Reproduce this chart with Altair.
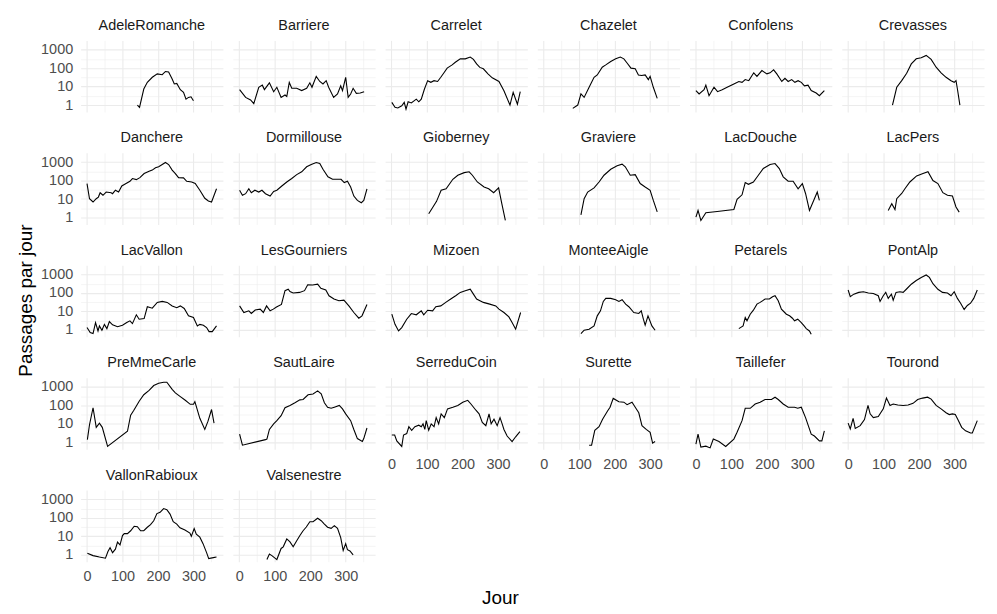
import altair as alt
import pandas as pd

SITES = ["AdeleRomanche", "Barriere", "Carrelet", "Chazelet", "Confolens", "Crevasses",
         "Danchere", "Dormillouse", "Gioberney", "Graviere", "LacDouche", "LacPers",
         "LacVallon", "LesGourniers", "Mizoen", "MonteeAigle", "Petarels", "PontAlp",
         "PreMmeCarle", "SautLaire", "SerreduCoin", "Surette", "Taillefer", "Tourond",
         "VallonRabioux", "Valsenestre"]

ADELE_DAY = [142, 148, 160, 170, 184, 198, 212, 221, 230, 240, 246, 253, 263, 272, 279, 286, 293, 300]
ADELE_VAL = [1, 0.75, 7.4, 17, 32, 49, 44, 66, 62, 26, 14, 15, 6.8, 4.9, 2.1, 2.6, 2.8, 1.7]

BARRIERE_DAY = [1, 18, 32, 41, 55, 65, 71, 85, 97, 106, 118, 129, 134, 141, 148, 162, 176, 190, 199, 205,
                217, 227, 236, 245, 252, 266, 277, 286, 291, 300, 307, 314, 321, 330, 341, 352]
BARRIERE_VAL = [6.9, 2.6, 1.9, 1.2, 9.2, 12, 6.9, 16, 5.3, 9.2, 2.6, 3.5, 2.9, 17, 8.1, 8.1, 6.1, 8.1, 16, 9.2,
                36, 19, 14, 21, 9.2, 2.6, 4, 11, 6.1, 32, 2.6, 4, 8.1, 4.3, 4.5, 5.3]

CARRELET_DAY = [1, 10, 18, 29, 36, 41, 47, 56, 70, 77, 84, 93, 102, 111, 120, 130, 139, 148, 157, 171,
                180, 194, 208, 222, 231, 240, 249, 259, 272, 284, 303, 317, 334, 343, 355, 363]
CARRELET_VAL = [1.4, 0.75, 0.7, 0.92, 1.4, 0.6, 1.5, 1.3, 2.1, 1.5, 2.1, 7.4, 21, 17, 21, 19, 32, 56, 100, 150,
                210, 320, 320, 400, 300, 170, 110, 92, 49, 30, 19, 6, 1, 4.9, 1.1, 5.3]

CHAZELET_DAY = [82, 96, 105, 114, 128, 142, 151, 165, 175, 189, 203, 216, 226, 235, 246, 258, 267, 276,
                286, 295, 300, 309, 320]
CHAZELET_VAL = [0.66, 1, 4, 2.6, 9.2, 32, 43, 113, 150, 230, 320, 400, 320, 190, 100, 92, 43, 40,
                43, 24, 36, 9.2, 2.3]

CONFOLENS_DAY = [0, 9, 23, 28, 37, 51, 61, 74, 88, 107, 121, 130, 139, 149, 163, 172, 186, 200, 209, 219,
                 228, 242, 251, 260, 270, 279, 288, 297, 306, 316, 325, 339, 348, 362]
CONFOLENS_VAL = [6.1, 4, 6.8, 12, 3.2, 9.2, 5.3, 6.8, 9.2, 14, 19, 17, 24, 21, 56, 36, 74, 49, 56, 81,
                 49, 19, 28, 19, 24, 17, 21, 17, 11, 12, 6.1, 4.5, 3.2, 6.1]

CREVASSES_DAY = [125, 137, 151, 165, 178, 192, 206, 220, 234, 248, 262, 276, 290, 299, 304, 308, 315]
CREVASSES_VAL = [1, 9.2, 21, 53, 170, 320, 370, 490, 300, 113, 56, 32, 21, 17, 21, 7.4, 1]

DANCHERE_DAY = [0, 7, 17, 26, 32, 37, 45, 54, 68, 72, 80, 89, 98, 110, 121, 128, 139, 149, 161, 175,
                184, 193, 202, 212, 221, 230, 240, 249, 258, 272, 281, 295, 305, 318, 332, 342, 351, 365]
DANCHERE_VAL = [69, 10.4, 6.9, 10.4, 12.8, 22, 16, 24, 22, 19.5, 30, 24, 51, 69, 92, 129, 113, 145, 240, 320,
                370, 490, 560, 740, 960, 740, 370, 240, 145, 140, 92, 84, 69, 30, 11, 7.8, 6.9, 36]

DORMILLOUSE_DAY = [1, 9, 18, 27, 34, 44, 55, 64, 74, 87, 97, 106, 120, 134, 148, 162, 176, 190, 203, 217,
                   227, 236, 250, 263, 277, 287, 296, 305, 314, 323, 333, 344, 351, 360]
DORMILLOUSE_VAL = [30, 16, 19.5, 36, 22, 30, 24, 30, 19.5, 14.5, 26, 30, 51, 84, 129, 210, 300, 560, 740, 960,
                   840, 410, 160, 118, 118, 118, 78, 92, 45, 14.5, 8.4, 6.3, 8.4, 36]

GIOBERNEY_DAY = [105, 117, 127, 140, 154, 173, 187, 205, 219, 228, 242, 261, 274, 288, 302, 311, 321]
GIOBERNEY_VAL = [1.6, 3.7, 7.5, 30, 36, 118, 195, 270, 300, 195, 84, 45, 36, 22, 40, 5.6, 0.7]

GRAVIERE_DAY = [105, 114, 124, 142, 156, 170, 189, 207, 221, 230, 244, 258, 272, 286, 300, 309, 320]
GRAVIERE_VAL = [1.4, 10.4, 24, 40, 84, 195, 410, 630, 780, 560, 195, 210, 69, 45, 30, 8.4, 2]

LACDOUCHE_DAY = [0, 6, 14, 28, 60, 107, 116, 130, 139, 148, 162, 176, 190, 209, 223, 235, 246, 260,
                 274, 288, 300, 309, 320, 334, 342, 348]
LACDOUCHE_VAL = [1.04, 2.4, 0.69, 1.8, 2.1, 2.7, 9.6, 17, 78, 63, 84, 195, 450, 740, 840, 450, 160, 92,
                 92, 36, 69, 20, 2.4, 10.4, 24, 8.4]

LACPERS_DAY = [113, 123, 132, 137, 151, 160, 174, 193, 211, 225, 239, 253, 267, 280, 294, 304, 313]
LACPERS_VAL = [2.4, 5.6, 2.7, 10.4, 20, 36, 84, 180, 240, 300, 100, 69, 22, 16, 14.5, 3.7, 1.95]

LACVALLON_DAY = [0, 9, 17, 24, 31, 35, 42, 49, 56, 63, 72, 86, 100, 112, 121, 128, 139, 147, 161, 170,
                 184, 198, 212, 226, 240, 253, 263, 274, 286, 300, 311, 318, 328, 337, 344, 353, 365]
LACVALLON_VAL = [1.34, 0.72, 0.63, 2.5, 0.88, 1.65, 0.96, 2.0, 1.18, 2.85, 1.9, 1.5, 1.8, 2.5, 3.1, 2.2, 6.6, 3.8, 4.1, 18,
                 15, 31, 35, 31, 20, 16, 20, 14.6, 5.8, 4.7, 1.65, 2.0, 1.8, 1.34, 0.81, 0.81, 1.65]

LESGOURNIERS_DAY = [1, 13, 27, 34, 45, 59, 68, 77, 87, 96, 105, 119, 129, 138, 143, 152, 170, 184, 193, 207,
                    221, 230, 244, 253, 267, 281, 295, 309, 323, 337, 346, 360]
LESGOURNIERS_VAL = [20, 8.8, 10.8, 7.8, 12, 13.4, 8.8, 20, 10.8, 13.4, 17.6, 24, 134, 160, 120, 100, 108, 134, 280, 270,
                    300, 180, 145, 71, 47, 38, 41, 20, 8.8, 4.3, 5.8, 24]

MIZOEN_DAY = [1, 10, 20, 29, 43, 56, 70, 84, 91, 102, 116, 125, 139, 153, 167, 181, 194, 208, 222, 231,
              240, 259, 277, 294, 303, 317, 331, 340, 350, 364]
MIZOEN_VAL = [7.1, 2.0, 0.88, 1.34, 3.8, 7.7, 6.6, 10.8, 6.6, 11.7, 10.8, 18, 20, 31, 47, 71, 108, 134, 160, 87,
              47, 31, 25, 20, 13.4, 8.8, 5.1, 2.5, 1.1, 8.8]

MONTEEAIGLE_DAY = [105, 114, 128, 142, 151, 160, 168, 175, 189, 203, 212, 221, 231, 240, 254, 268, 275,
                   281, 286, 294, 305, 314]
MONTEEAIGLE_VAL = [0.63, 0.96, 1.08, 1.65, 5.8, 10.8, 35, 51, 51, 43, 35, 43, 25, 18, 8.8, 7.8, 10.8,
                   3.8, 1.8, 5.8, 1.65, 0.96]

PETARELS_DAY = [121, 133, 139, 144, 153, 162, 172, 181, 195, 207, 216, 223, 232, 241, 255, 264, 272, 278,
                287, 297, 305, 311, 320, 325]
PETARELS_VAL = [1.18, 1.65, 4.7, 3.1, 7.1, 11.7, 25, 31, 47, 47, 63, 71, 38, 13.4, 7.1, 5.8, 4.3, 3.1,
                3.8, 2.5, 1.65, 1.18, 0.88, 0.58]

PONTALP_DAY = [0, 6, 16, 30, 43, 57, 71, 85, 90, 99, 106, 113, 122, 127, 135, 146, 155, 164, 178, 192,
               206, 220, 229, 239, 253, 266, 280, 290, 299, 308, 317, 327, 336, 345, 354, 364]
PONTALP_VAL = [145, 63, 87, 108, 117, 100, 95, 71, 35, 71, 108, 51, 87, 41, 108, 117, 108, 160, 300, 480,
               700, 950, 700, 320, 160, 108, 100, 71, 117, 51, 28, 12.9, 21, 28, 51, 145]

PREMMECARLE_DAY = [1, 7, 17, 26, 35, 43, 58, 114, 123, 132, 147, 160, 175, 188, 202, 216, 225, 240, 249,
                   263, 277, 291, 300, 304, 318, 332, 341, 351, 358]
PREMMECARLE_VAL = [1.4, 9, 75, 6.5, 11, 6.5, 0.6, 4, 30, 55, 170, 380, 650, 1200, 1600, 1800, 1800, 750, 480,
                   300, 190, 115, 115, 160, 20, 5, 14, 60, 11]

SAUTLAIRE_DAY = [1, 9, 74, 78, 85, 97, 106, 118, 129, 143, 157, 171, 180, 194, 208, 221, 231, 240, 249,
                 259, 268, 282, 291, 300, 314, 323, 333, 347, 351, 360]
SAUTLAIRE_VAL = [2.8, 0.7, 1.4, 1.5, 5, 10, 15, 28, 75, 100, 140, 200, 210, 380, 420, 620, 420, 140, 80,
                 70, 80, 100, 65, 35, 15, 5, 1.6, 1.1, 1.6, 6]

SERREDUCOIN_DAY = [1, 9, 15, 29, 34, 43, 49, 57, 66, 77, 84, 89, 94, 98, 105, 112, 120, 126, 133, 140,
                   149, 158, 173, 187, 201, 215, 224, 238, 247, 256, 266, 275, 281, 289, 298, 306, 312,
                   317, 326, 340, 350, 362]
SERREDUCOIN_VAL = [2.5, 2.5, 1.2, 0.6, 2.5, 3, 7, 4.5, 7, 8.5, 7, 10, 5, 15, 4.5, 10, 7, 22, 10, 35,
                   22, 65, 80, 100, 150, 190, 120, 55, 35, 12, 8, 35, 10, 18, 8, 22, 10,
                   5, 2.2, 1.1, 2, 3.8]

SURETTE_DAY = [128, 135, 144, 156, 166, 180, 187, 196, 212, 226, 235, 249, 258, 268, 277, 289, 300, 307, 314]
SURETTE_VAL = [0.7, 0.7, 4.5, 7, 18, 50, 80, 240, 160, 150, 110, 150, 80, 40, 8, 5, 3.5, 0.9, 1.1]

TAILLEFER_DAY = [0, 6, 14, 28, 40, 49, 65, 84, 107, 116, 130, 139, 153, 167, 181, 195, 213, 223, 232,
                 246, 260, 278, 287, 297, 309, 325, 334, 348, 355, 362]
TAILLEFER_VAL = [0.8, 2.8, 0.55, 0.62, 0.5, 1.5, 1.1, 0.6, 1.5, 3.5, 15, 70, 70, 120, 150, 210, 210, 280, 210,
                 120, 80, 80, 70, 80, 22, 2.8, 2.2, 1.2, 1.2, 4.2]

TOUROND_DAY = [0, 6, 14, 20, 34, 46, 56, 62, 71, 85, 99, 108, 118, 127, 140, 155, 169, 183, 196, 210,
               224, 234, 248, 262, 276, 285, 294, 302, 311, 320, 331, 345, 350, 364]
TOUROND_VAL = [11, 5.3, 20, 5.7, 8, 17, 100, 35, 22, 25, 65, 250, 100, 120, 105, 100, 105, 130, 210, 250,
               280, 220, 100, 65, 40, 32, 35, 32, 15, 6.5, 4.2, 3.2, 3.2, 15]

VALLONRABIOUX_DAY = [1, 17, 35, 52, 59, 65, 72, 80, 86, 93, 100, 105, 114, 123, 133, 142, 151, 160, 170, 179,
                     188, 197, 206, 216, 225, 234, 243, 253, 262, 276, 290, 294, 302, 308, 318, 327, 337,
                     343, 356, 365]
VALLONRABIOUX_VAL = [1.2, 0.9, 0.75, 0.65, 1.5, 2.4, 1.3, 2.0, 4.8, 3.4, 11, 14, 14, 20, 35, 33, 20, 20, 31, 43,
                     70, 170, 200, 320, 280, 160, 62, 46, 29, 22, 15, 10, 26, 13, 9, 4, 1.3,
                     0.62, 0.7, 0.75]

VALSENESTRE_DAY = [78, 85, 92, 106, 118, 124, 134, 143, 152, 162, 171, 180, 189, 199, 208, 221, 231, 240,
                   249, 259, 268, 277, 286, 293, 300, 305, 312, 321]
VALSENESTRE_VAL = [0.55, 1.1, 0.9, 0.55, 2.2, 2.7, 7.2, 5, 2.7, 5.8, 11, 20, 32, 62, 62, 95, 70, 46,
                   31, 27, 38, 27, 8.5, 1.7, 4, 1.9, 1.6, 1.0]

SERIES = [
    (ADELE_DAY, ADELE_VAL), (BARRIERE_DAY, BARRIERE_VAL), (CARRELET_DAY, CARRELET_VAL),
    (CHAZELET_DAY, CHAZELET_VAL), (CONFOLENS_DAY, CONFOLENS_VAL), (CREVASSES_DAY, CREVASSES_VAL),
    (DANCHERE_DAY, DANCHERE_VAL), (DORMILLOUSE_DAY, DORMILLOUSE_VAL), (GIOBERNEY_DAY, GIOBERNEY_VAL),
    (GRAVIERE_DAY, GRAVIERE_VAL), (LACDOUCHE_DAY, LACDOUCHE_VAL), (LACPERS_DAY, LACPERS_VAL),
    (LACVALLON_DAY, LACVALLON_VAL), (LESGOURNIERS_DAY, LESGOURNIERS_VAL), (MIZOEN_DAY, MIZOEN_VAL),
    (MONTEEAIGLE_DAY, MONTEEAIGLE_VAL), (PETARELS_DAY, PETARELS_VAL), (PONTALP_DAY, PONTALP_VAL),
    (PREMMECARLE_DAY, PREMMECARLE_VAL), (SAUTLAIRE_DAY, SAUTLAIRE_VAL), (SERREDUCOIN_DAY, SERREDUCOIN_VAL),
    (SURETTE_DAY, SURETTE_VAL), (TAILLEFER_DAY, TAILLEFER_VAL), (TOUROND_DAY, TOUROND_VAL),
    (VALLONRABIOUX_DAY, VALLONRABIOUX_VAL), (VALSENESTRE_DAY, VALSENESTRE_VAL),
]

X_TICKS = [0, 50, 100, 150, 200, 250, 300, 350]
Y_TICKS = [1, 3.1623, 10, 31.623, 100, 316.23, 1000]

NCOL = 6
FONT = "Liberation Sans"
GRID = "#ebebeb"
X_MAJOR = "datum.value % 100 === 0"
Y_MAJOR = "(datum.value === 1 || datum.value === 10 || datum.value === 100 || datum.value === 1000)"

n = len(SITES)

panels = []
for i, (site, (days, vals)) in enumerate(zip(SITES, SERIES)):
    r, c = divmod(i, NCOL)
    show_x = (i + NCOL) >= n
    show_y = c == 0
    df = pd.DataFrame({"jour": days, "passages": vals})
    x_axis = alt.Axis(
        values=X_TICKS, title=None, domain=False, ticks=False, labels=show_x,
        labelExpr=f"{X_MAJOR} ? datum.label : ''",
        labelFont=FONT, labelFontSize=14.5, labelColor="#4d4d4d", labelPadding=8,
        gridColor=GRID,
        gridWidth={"condition": {"test": X_MAJOR, "value": 1.1}, "value": 0.55},
    )
    y_axis = alt.Axis(
        values=Y_TICKS, title=None, domain=False, ticks=False, labels=show_y, format="d",
        labelExpr=f"{Y_MAJOR} ? datum.label : ''",
        labelFont=FONT, labelFontSize=14.5, labelColor="#4d4d4d", labelPadding=8,
        gridColor=GRID,
        gridWidth={"condition": {"test": Y_MAJOR, "value": 1.1}, "value": 0.55},
    )
    p = alt.Chart(df).mark_line(color="black", strokeWidth=1.1, clip=True).encode(
        x=alt.X("jour:Q", scale=alt.Scale(domain=[-18, 383], nice=False, zero=False), axis=x_axis),
        y=alt.Y("passages:Q", scale=alt.Scale(type="log", domain=[0.42, 3200], nice=False), axis=y_axis),
    ).properties(
        width=143, height=72,
        title=alt.TitleParams(site, font=FONT, fontSize=14.5, fontWeight="normal", color="#1a1a1a",
                              anchor="middle", offset=7),
    )
    panels.append(p)

grid = alt.concat(*panels, columns=NCOL, spacing={"row": 41, "column": 10}, bounds="flush").properties(
    title=alt.TitleParams("Passages par jour", orient="left", anchor="middle", font=FONT,
                          fontSize=19, fontWeight="normal", color="black", offset=5)
)

chart = alt.hconcat(grid).properties(
    title=alt.TitleParams("Jour", orient="bottom", anchor="middle", font=FONT,
                          fontSize=19, fontWeight="normal", color="black", offset=6),
    background="white",
    padding={"top": 8, "left": 8, "right": 5, "bottom": 5},
).configure_view(strokeWidth=0)

chart.save("out.html", embed_options={"renderer": "svg", "actions": False})
